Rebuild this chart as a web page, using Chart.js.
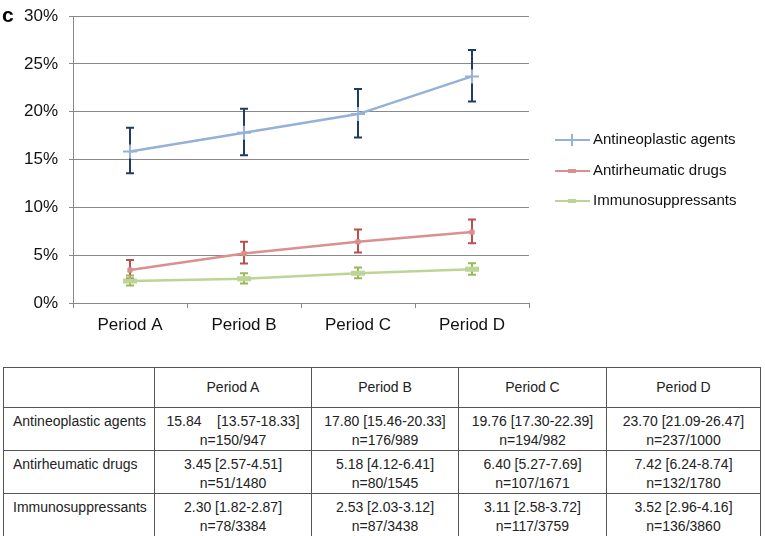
<!DOCTYPE html>
<html>
<head>
<meta charset="utf-8">
<script src="https://cdn.jsdelivr.net/npm/chart.js@4"></script>
<style>
  body { margin: 0; background: #fff; font-family: 'Liberation Sans', Arial, sans-serif; }
  #wrap { position: relative; width: 765px; height: 536px; overflow: hidden; }
  #panel { position: absolute; left: 2px; top: 4px; font-weight: bold; font-size: 21px; line-height: 21px; z-index: 2; }
  #chartBox { position: absolute; left: 0; top: -5px; width: 765px; height: 348px; }
  #tbl { position: absolute; left: 3px; top: 367px; border-collapse: collapse; font-size: 14px; color: #222; }
  #tbl td { border: 1px solid #555; padding: 0; text-align: center; line-height: 19px; }
  #tbl td.name { text-align: left; padding-left: 9px; }
  #tbl tr.head td { height: 39px; vertical-align: middle; }
  #tbl tr.row td { vertical-align: top; padding-top: 4px; height: 38px; }
</style>
</head>
<body>
<div id="wrap">
  <div id="panel">c</div>
  <div id="chartBox"><canvas id="c"></canvas></div>
  <table id="tbl"></table>
</div>
<script>
const periods = ['Period A', 'Period B', 'Period C', 'Period D']
const seriesNames = ['Antineoplastic agents', 'Antirheumatic drugs', 'Immunosuppressants']

const antineoplastic = [15.84, 17.80, 19.76, 23.70]
const antineoplasticLo = [13.57, 15.46, 17.30, 21.09]
const antineoplasticHi = [18.33, 20.33, 22.39, 26.47]
const antineoplasticN = ['150/947', '176/989', '194/982', '237/1000']

const antirheumatic = [3.45, 5.18, 6.40, 7.42]
const antirheumaticLo = [2.57, 4.12, 5.27, 6.24]
const antirheumaticHi = [4.51, 6.41, 7.69, 8.74]
const antirheumaticN = ['51/1480', '80/1545', '107/1671', '132/1780']

const immuno = [2.30, 2.53, 3.11, 3.52]
const immunoLo = [1.82, 2.03, 2.58, 2.96]
const immunoHi = [2.87, 3.12, 3.72, 4.16]
const immunoN = ['78/3384', '87/3438', '117/3759', '136/3860']

const yTicks = [0, 5, 10, 15, 20, 25, 30]

const lineColors = ['#95B0D9', '#D8918F', '#BDD497']
const barColors = ['#1F3D63', '#B9504D', '#98B957']

// table under the chart
let html = '<tr class="head"><td style="width:150px"></td>'
const widths = [156, 146, 147, 153]
for (let i in periods) html += '<td style="width:' + widths[i] + 'px">' + periods[i] + '</td>'
html += '</tr>'
const tabRows = [
  [antineoplastic, antineoplasticLo, antineoplasticHi, antineoplasticN],
  [antirheumatic, antirheumaticLo, antirheumaticHi, antirheumaticN],
  [immuno, immunoLo, immunoHi, immunoN]
]
for (let r in tabRows) {
  const [v, lo, hi, n] = tabRows[r]
  html += '<tr class="row"><td class="name">' + seriesNames[r] + '</td>'
  for (let i in v) {
    const gap = (r == 0 && i == 0) ? '&nbsp;&nbsp;&nbsp; ' : ' '
    html += '<td>' + v[i].toFixed(2) + gap + '[' + lo[i].toFixed(2) + '-' + hi[i].toFixed(2) + ']<br>n=' + n[i] + '</td>'
  }
  html += '</tr>'
}
document.getElementById('tbl').innerHTML = html

const errLo = [antineoplasticLo, antirheumaticLo, immunoLo]
const errHi = [antineoplasticHi, antirheumaticHi, immunoHi]

// error bars, drawn before the lines so the line sits on top
const errorBars = {
  id: 'errorBars',
  beforeDatasetsDraw(chart) {
    const ctx = chart.ctx
    const y = chart.scales.y
    ctx.save()
    ctx.lineWidth = 2
    chart.data.datasets.forEach((ds, d) => {
      const meta = chart.getDatasetMeta(d)
      ctx.strokeStyle = barColors[d]
      meta.data.forEach((pt, i) => {
        const x = Math.round(pt.x)
        const y1 = y.getPixelForValue(errLo[d][i])
        const y2 = y.getPixelForValue(errHi[d][i])
        ctx.beginPath()
        ctx.moveTo(x, y1); ctx.lineTo(x, y2)
        ctx.moveTo(x - 4, y1); ctx.lineTo(x + 4, y1)
        ctx.moveTo(x - 4, y2); ctx.lineTo(x + 4, y2)
        ctx.stroke()
      })
    })
    ctx.restore()
  }
}

// legend on the right, Excel style (line with marker); canvas sits 5px higher
const sideLegend = {
  id: 'sideLegend',
  afterDraw(chart) {
    const ctx = chart.ctx
    const rows = [145, 176, 206]
    ctx.save()
    ctx.font = '15px "Liberation Sans", Arial, sans-serif'
    ctx.textBaseline = 'middle'
    seriesNames.forEach((name, k) => {
      const yy = rows[k]
      ctx.strokeStyle = lineColors[k]
      ctx.lineWidth = 2
      ctx.beginPath(); ctx.moveTo(555, yy); ctx.lineTo(590, yy); ctx.stroke()
      if (k == 0) {
        ctx.beginPath(); ctx.moveTo(572, yy - 6); ctx.lineTo(572, yy + 6); ctx.stroke()
      } else {
        ctx.fillStyle = lineColors[k]
        ctx.fillRect(568, yy - 2, 8, 4)
      }
      ctx.fillStyle = '#111'
      ctx.fillText(name, 593, yy)
    })
    ctx.restore()
  }
}

const config = {
  type: 'line',
  data: {
    labels: periods,
    datasets: [
      { label: seriesNames[0], data: antineoplastic, borderColor: lineColors[0], backgroundColor: lineColors[0],
        borderWidth: 2.5, pointStyle: 'cross', pointRadius: 7, pointBorderWidth: 2, tension: 0 },
      { label: seriesNames[1], data: antirheumatic, borderColor: lineColors[1], backgroundColor: lineColors[1],
        borderWidth: 2.5, pointStyle: 'rect', pointRadius: 3, pointBorderWidth: 1, tension: 0 },
      { label: seriesNames[2], data: immuno, borderColor: lineColors[2], backgroundColor: lineColors[2],
        borderWidth: 2.5, pointStyle: 'line', pointRadius: 7, pointBorderWidth: 5, tension: 0 }
    ]
  },
  options: {
    responsive: false,
    animation: false,
    devicePixelRatio: 1,
    layout: { padding: { top: 5, right: 236, bottom: 0, left: 0 } },
    plugins: { legend: { display: false }, tooltip: { enabled: false } },
    scales: {
      x: {
        offset: true,
        grid: { offset: true, drawOnChartArea: false, color: '#888', tickLength: 5 },
        border: { color: '#888' },
        ticks: { color: '#111', padding: 7, font: { size: 17, family: '"Liberation Sans", Arial, sans-serif' } },
        afterFit: s => { s.height = 40 }
      },
      y: {
        min: 0, max: 30,
        afterBuildTicks: s => { s.ticks = yTicks.map(v => ({ value: v })) },
        grid: { color: '#888', tickLength: 4 },
        border: { color: '#888' },
        ticks: { color: '#111', padding: 11, font: { size: 17, family: '"Liberation Sans", Arial, sans-serif' },
          callback: v => v + '%' },
        afterFit: s => { s.width = 73 }
      }
    }
  },
  plugins: [errorBars, sideLegend]
}

const canvas = document.getElementById('c')
canvas.width = 765
canvas.height = 348
new Chart(canvas, config)
</script>
</body>
</html>
